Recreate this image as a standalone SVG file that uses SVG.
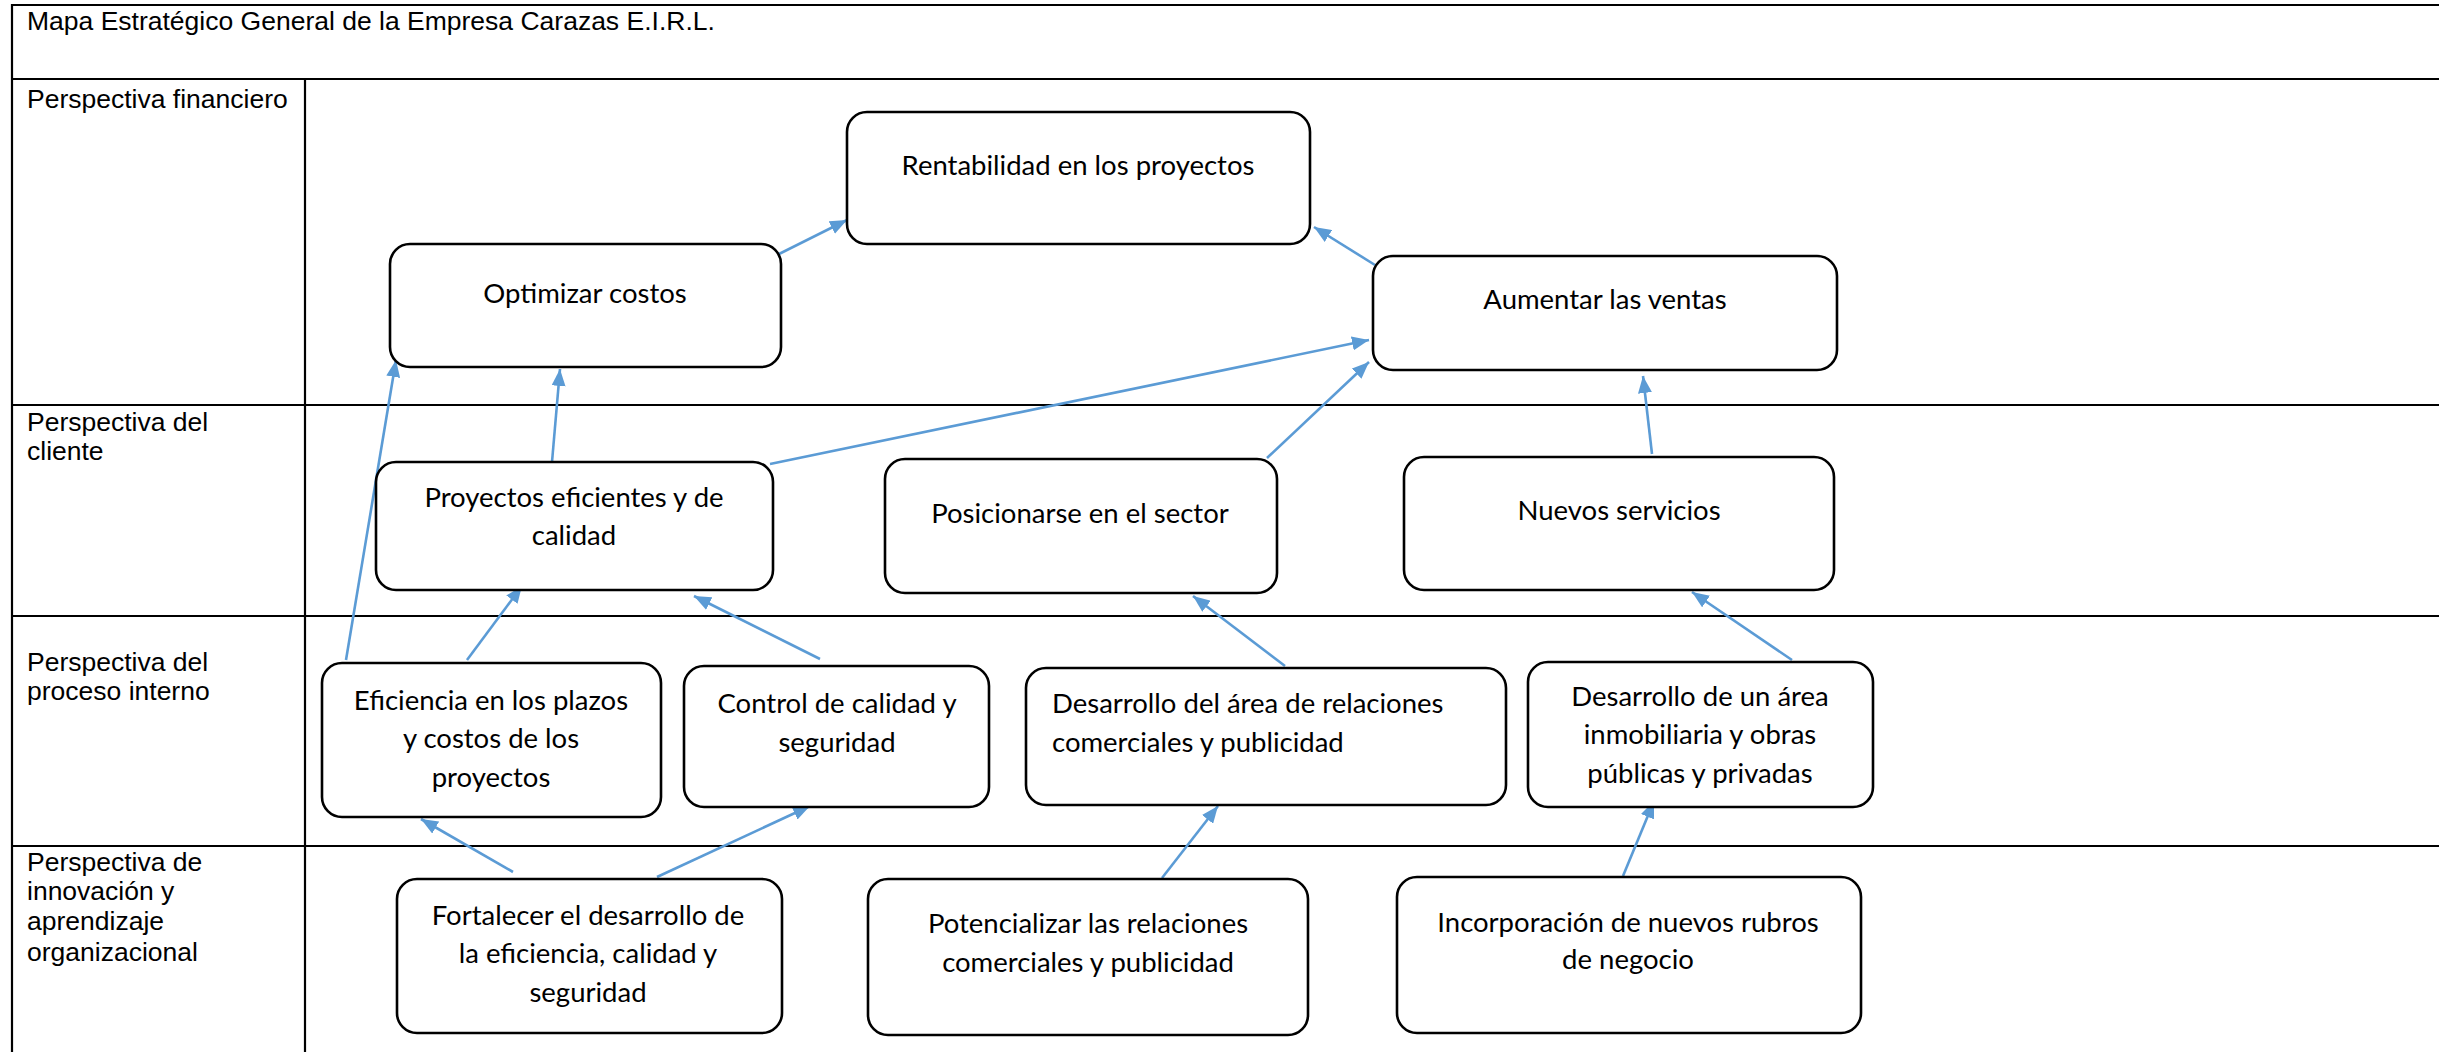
<svg xmlns="http://www.w3.org/2000/svg" width="2439" height="1052" viewBox="0 0 2439 1052">
<style>
.grid{stroke:#000;stroke-width:2.2;fill:none}
.lbl{font-family:"Liberation Sans",Arial,sans-serif;font-size:26.5px;fill:#000}
.box{fill:#fff;stroke:#000;stroke-width:2.6}
.t{font-family:Lato,"Open Sans",sans-serif;font-size:27.5px;fill:#000;text-anchor:middle}
.tl{font-family:Lato,"Open Sans",sans-serif;font-size:27.5px;fill:#000}
.c{stroke:#5B9BD5;stroke-width:2.6;fill:none;marker-end:url(#ah)}
</style>
<defs>
<marker id="ah" markerUnits="userSpaceOnUse" markerWidth="18" markerHeight="14" refX="17" refY="7" orient="auto">
<path d="M0,0 L17,7 L0,14 z" fill="#5B9BD5"/>
</marker>
</defs>
<rect width="2439" height="1052" fill="#fff"/>
<g id="table">
<line class="grid" x1="12" y1="5" x2="2439" y2="5"/>
<line class="grid" x1="12" y1="79" x2="2439" y2="79"/>
<line class="grid" x1="12" y1="405" x2="2439" y2="405"/>
<line class="grid" x1="12" y1="616" x2="2439" y2="616"/>
<line class="grid" x1="12" y1="846" x2="2439" y2="846"/>
<line class="grid" x1="12" y1="4" x2="12" y2="1052"/>
<line class="grid" x1="305" y1="79" x2="305" y2="1052"/>
<text class="lbl" x="27" y="30">Mapa Estratégico General de la Empresa Carazas E.I.R.L.</text>
<text class="lbl" x="27" y="108">Perspectiva financiero</text>
<text class="lbl" x="27" y="431">Perspectiva del</text>
<text class="lbl" x="27" y="460">cliente</text>
<text class="lbl" x="27" y="671">Perspectiva del</text>
<text class="lbl" x="27" y="700">proceso interno</text>
<text class="lbl" x="27" y="871">Perspectiva de</text>
<text class="lbl" x="27" y="900">innovación y</text>
<text class="lbl" x="27" y="930">aprendizaje</text>
<text class="lbl" x="27" y="961">organizacional</text>
</g>
<g id="connectors">
<line class="c" x1="779" y1="254" x2="847" y2="220"/>
<line class="c" x1="1375" y1="265" x2="1314" y2="227"/>
<line class="c" x1="770" y1="464" x2="1369" y2="340"/>
<line class="c" x1="1267" y1="458" x2="1369" y2="362"/>
<line class="c" x1="1652" y1="454" x2="1643" y2="376"/>
<line class="c" x1="552" y1="462" x2="560" y2="369"/>
<line class="c" x1="346" y1="660" x2="396" y2="360"/>
<line class="c" x1="467" y1="660" x2="522" y2="586"/>
<line class="c" x1="820" y1="659" x2="694" y2="596"/>
<line class="c" x1="1285" y1="666" x2="1193" y2="596"/>
<line class="c" x1="1792" y1="660" x2="1692" y2="592"/>
<line class="c" x1="513" y1="872" x2="421" y2="819"/>
<line class="c" x1="657" y1="877" x2="810" y2="806"/>
<line class="c" x1="1162" y1="878" x2="1218" y2="806"/>
<line class="c" x1="1623" y1="876" x2="1654" y2="801"/>
</g>
<g id="n-rentabilidad"><rect class="box" x="847" y="112" width="463" height="132" rx="20"/><text class="t" x="1078" y="175">Rentabilidad en los proyectos</text></g>
<g id="n-optimizar"><rect class="box" x="390" y="244" width="391" height="123" rx="20"/><text class="t" x="585" y="303">Optimizar costos</text></g>
<g id="n-aumentar"><rect class="box" x="1373" y="256" width="464" height="114" rx="20"/><text class="t" x="1605" y="309">Aumentar las ventas</text></g>
<g id="n-proyectos"><rect class="box" x="376" y="462" width="397" height="128" rx="20"/><text class="t" x="574" y="507">Proyectos eficientes y de</text><text class="t" x="574" y="545">calidad</text></g>
<g id="n-posicionarse"><rect class="box" x="885" y="459" width="392" height="134" rx="20"/><text class="t" x="1080" y="523">Posicionarse en el sector</text></g>
<g id="n-nuevos"><rect class="box" x="1404" y="457" width="430" height="133" rx="20"/><text class="t" x="1619" y="520">Nuevos servicios</text></g>
<g id="n-eficiencia"><rect class="box" x="322" y="663" width="339" height="154" rx="20"/><text class="t" x="491" y="710">Eficiencia en los plazos</text><text class="t" x="491" y="748">y costos de los</text><text class="t" x="491" y="787">proyectos</text></g>
<g id="n-control"><rect class="box" x="684" y="666" width="305" height="141" rx="20"/><text class="t" x="837" y="713">Control de calidad y</text><text class="t" x="837" y="752">seguridad</text></g>
<g id="n-desarrollo-rel"><rect class="box" x="1026" y="668" width="480" height="137" rx="20"/><text class="tl" x="1052" y="713">Desarrollo del área de relaciones</text><text class="tl" x="1052" y="752">comerciales y publicidad</text></g>
<g id="n-desarrollo-inm"><rect class="box" x="1528" y="662" width="345" height="145" rx="20"/><text class="t" x="1700" y="706">Desarrollo de un área</text><text class="t" x="1700" y="744">inmobiliaria y obras</text><text class="t" x="1700" y="783">públicas y privadas</text></g>
<g id="n-fortalecer"><rect class="box" x="397" y="879" width="385" height="154" rx="20"/><text class="t" x="588" y="925">Fortalecer el desarrollo de</text><text class="t" x="588" y="963">la eficiencia, calidad y</text><text class="t" x="588" y="1002">seguridad</text></g>
<g id="n-potencializar"><rect class="box" x="868" y="879" width="440" height="156" rx="20"/><text class="t" x="1088" y="933">Potencializar las relaciones</text><text class="t" x="1088" y="972">comerciales y publicidad</text></g>
<g id="n-incorporacion"><rect class="box" x="1397" y="877" width="464" height="156" rx="20"/><text class="t" x="1628" y="932">Incorporación de nuevos rubros</text><text class="t" x="1628" y="969">de negocio</text></g>
</svg>
